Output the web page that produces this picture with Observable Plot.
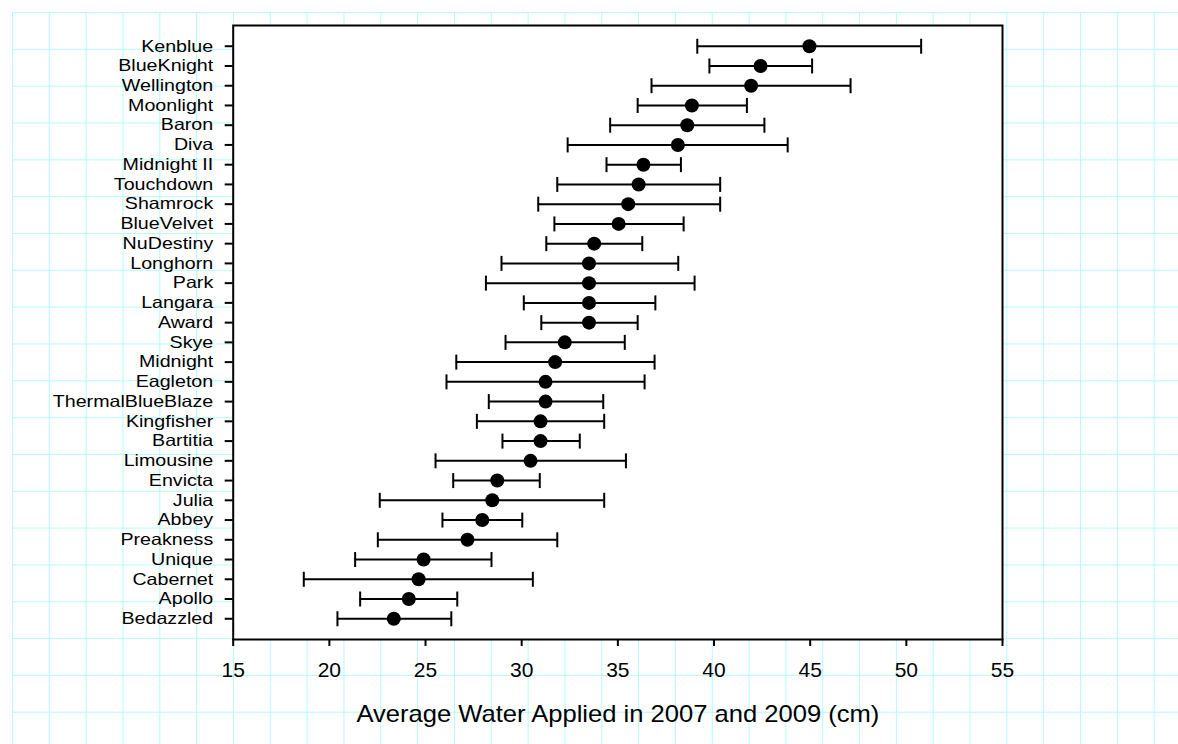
<!DOCTYPE html>
<html><head><meta charset="utf-8">
<script src="https://cdn.jsdelivr.net/npm/d3@7"></script>
<script src="https://cdn.jsdelivr.net/npm/@observablehq/plot@0.6"></script>
<style>
html,body{margin:0;padding:0;background:#fff;}
#wrap{position:relative;width:1178px;height:744px;overflow:hidden;}
#grid{position:absolute;left:11.7px;top:12.2px;right:0;bottom:0;
background-image:linear-gradient(to right,#b4fbfb 0,#b4fbfb 1.3px,transparent 1.3px),linear-gradient(to bottom,#b4fbfb 0,#b4fbfb 1.3px,transparent 1.3px);
background-size:36.83px 36.83px;}
#chart{position:absolute;left:0;top:0;}
</style></head><body>
<div id="wrap"><div id="grid"></div><div id="chart"></div></div>
<script>
const cultivars = ["Kenblue","BlueKnight","Wellington","Moonlight","Baron","Diva","Midnight II","Touchdown","Shamrock","BlueVelvet","NuDestiny","Longhorn","Park","Langara","Award","Skye","Midnight","Eagleton","ThermalBlueBlaze","Kingfisher","Bartitia","Limousine","Envicta","Julia","Abbey","Preakness","Unique","Cabernet","Apollo","Bedazzled"];
const means = [44.96,42.42,41.93,38.85,38.61,38.12,36.33,36.08,35.54,35.04,33.77,33.5,33.5,33.5,33.5,32.24,31.74,31.24,31.24,30.98,30.98,30.46,28.73,28.47,27.95,27.18,24.9,24.64,24.13,23.35];
const lows = [39.13,39.76,36.75,36.03,34.6,32.39,34.41,31.85,30.86,31.7,31.28,28.95,28.14,30.11,31.02,29.16,26.6,26.09,28.29,27.67,29.0,25.52,26.44,22.62,25.88,22.52,21.34,18.67,21.6,20.42];
const highs = [50.77,45.1,47.1,41.71,42.62,43.83,38.28,40.32,40.32,38.42,36.27,38.14,38.99,36.95,36.03,35.36,36.91,36.39,34.24,34.29,33.02,35.42,30.94,34.29,30.03,31.85,28.43,30.58,26.65,26.34];
const xTicks = [15,20,25,30,35,40,45,50,55];
const xLabel = "Average Water Applied in 2007 and 2009 (cm)";

const data = cultivars.map((name,i)=>({name, mean: means[i], lo: lows[i], hi: highs[i]}));
const capSymbol = {draw(ctx, size){const h=Math.sqrt(size/Math.PI); ctx.moveTo(0,-h); ctx.lineTo(0,h);}};

const plot = Plot.plot({
  width:1178, height:744,
  marginLeft:232.7, marginRight:176, marginTop:25, marginBottom:105,
  style:{background:"transparent", fontFamily:"'Liberation Sans', Arial, sans-serif", color:"black"},
  x:{domain:[15,55]},
  y:{type:"point", domain: cultivars, padding:1.05, round:false},
  marks:[
    Plot.frame({fill:"white", stroke:"black", strokeWidth:2}),
    Plot.axisX({ticks:xTicks, tickSize:7, tickPadding:15.1, fontSize:21, label:null, strokeWidth:2}),
    Plot.axisY({tickSize:8, tickPadding:12, fontSize:16.5, label:null, strokeWidth:2}),
    Plot.ruleY(data, {y:"name", x1:"lo", x2:"hi", stroke:"black", strokeWidth:2}),
    Plot.dot(data, {x:"lo", y:"name", symbol:capSymbol, r:7.5, stroke:"black", strokeWidth:2, fill:"none"}),
    Plot.dot(data, {x:"hi", y:"name", symbol:capSymbol, r:7.5, stroke:"black", strokeWidth:2, fill:"none"}),
    Plot.dot(data, {x:"mean", y:"name", r:7, fill:"black", stroke:"none"}),
    Plot.text([xLabel], {frameAnchor:"bottom", lineAnchor:"bottom", dy:82.7, fontSize:24, fill:"black"})
  ]
});
document.getElementById("chart").append(plot);

function stretch(nodes,k){
  nodes.forEach(t=>{
    const L=t.getComputedTextLength();
    t.setAttribute("textLength",(L*k).toFixed(2));
    t.setAttribute("lengthAdjust","spacingAndGlyphs");
  });
}
stretch(plot.querySelectorAll('[aria-label="y-axis tick label"] text'),1.19);
stretch(plot.querySelectorAll('[aria-label="text"] text'),1.065);
</script>
</body></html>
